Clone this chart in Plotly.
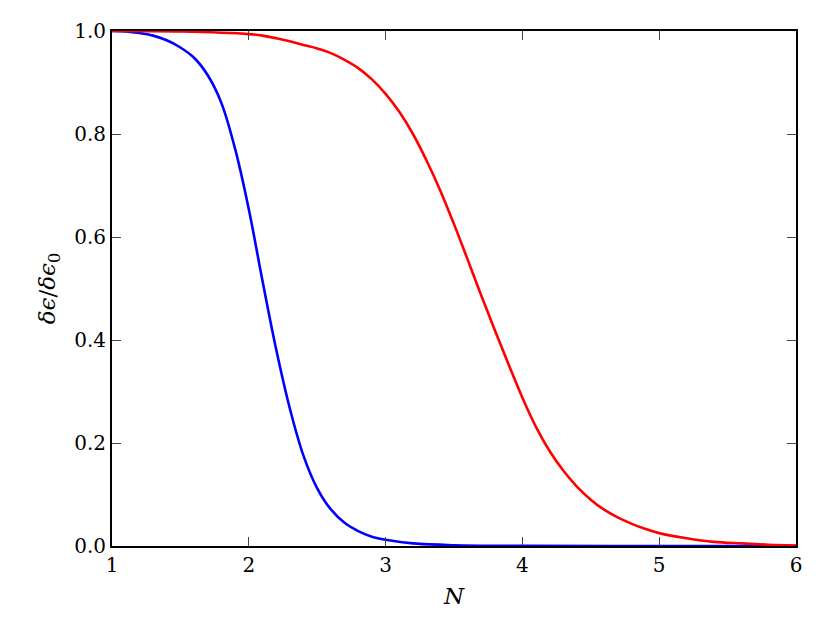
import plotly.graph_objects as go

# Blue curve
blue_x = [1.0, 1.1, 1.2, 1.3, 1.4, 1.5, 1.6, 1.7, 1.8, 1.9, 2.0, 2.1, 2.2, 2.3, 2.4,
          2.5, 2.6, 2.7, 2.8, 2.9, 3.0, 3.2, 3.5, 4.0, 5.0, 6.0]
blue_y = [1.0, 0.999, 0.996, 0.991, 0.982, 0.968, 0.948, 0.914, 0.860, 0.771, 0.654, 0.515,
          0.382, 0.267, 0.175, 0.112, 0.071, 0.045, 0.029, 0.018, 0.012, 0.005, 0.0015, 0.0003, 0.0, 0.0]

# Red curve
red_x = [1.0, 1.5, 2.0, 2.1, 2.2, 2.3, 2.4, 2.5, 2.6, 2.7, 2.8, 2.9, 3.0, 3.1, 3.2, 3.3,
         3.4, 3.5, 3.6, 3.7, 3.8, 3.9, 4.0, 4.1, 4.2, 4.3, 4.4, 4.5, 4.6, 4.7, 4.8, 4.9,
         5.0, 5.2, 5.4, 5.6, 5.8, 6.0]
red_y = [1.0, 0.999, 0.994, 0.991, 0.986, 0.980, 0.973, 0.966, 0.957, 0.944, 0.928, 0.906,
         0.878, 0.843, 0.800, 0.748, 0.690, 0.625, 0.556, 0.486, 0.418, 0.352, 0.288, 0.231,
         0.184, 0.146, 0.115, 0.090, 0.070, 0.055, 0.043, 0.033, 0.025, 0.015, 0.008, 0.005,
         0.0025, 0.001]

x_ticks = [1, 2, 3, 4, 5, 6]
x_tick_text = ["1", "2", "3", "4", "5", "6"]
y_ticks = [0.0, 0.2, 0.4, 0.6, 0.8, 1.0]
y_tick_text = ["0.0", "0.2", "0.4", "0.6", "0.8", "1.0"]

fig = go.Figure()
fig.add_trace(go.Scatter(x=blue_x, y=blue_y, mode="lines",
                         line=dict(color="#0000ff", width=2.6, shape="spline", smoothing=1.0),
                         showlegend=False, hoverinfo="skip"))
fig.add_trace(go.Scatter(x=red_x, y=red_y, mode="lines",
                         line=dict(color="#ff0000", width=2.6, shape="spline", smoothing=1.0),
                         showlegend=False, hoverinfo="skip"))

font_family = "DejaVu Serif"

fig.update_layout(
    width=822, height=615,
    margin=dict(l=104, r=34, t=23, b=77),
    paper_bgcolor="white", plot_bgcolor="white",
    font=dict(family=font_family, size=20, color="black"),
    xaxis=dict(
        range=[1, 6], tickvals=x_ticks, ticktext=x_tick_text,
        showgrid=False, zeroline=False,
        showline=True, linecolor="black", linewidth=2, mirror="ticks",
        ticks="inside", ticklen=9, tickwidth=1, tickcolor="#444444",
        title=dict(text="<i>N</i>", font=dict(family=font_family, size=23), standoff=12),
        tickfont=dict(family=font_family, size=20, color="black"),
    ),
    yaxis=dict(
        range=[0, 1], tickvals=y_ticks, ticktext=y_tick_text,
        showgrid=False, zeroline=False,
        showline=True, linecolor="black", linewidth=2, mirror="ticks",
        ticks="inside", ticklen=9, tickwidth=1, tickcolor="#444444",
        title=dict(text="<i>δϵ</i>/<i>δϵ</i><sub>0</sub>", font=dict(family=font_family, size=23), standoff=12),
        tickfont=dict(family=font_family, size=20, color="black"),
    ),
)

fig.write_html("out.html")
